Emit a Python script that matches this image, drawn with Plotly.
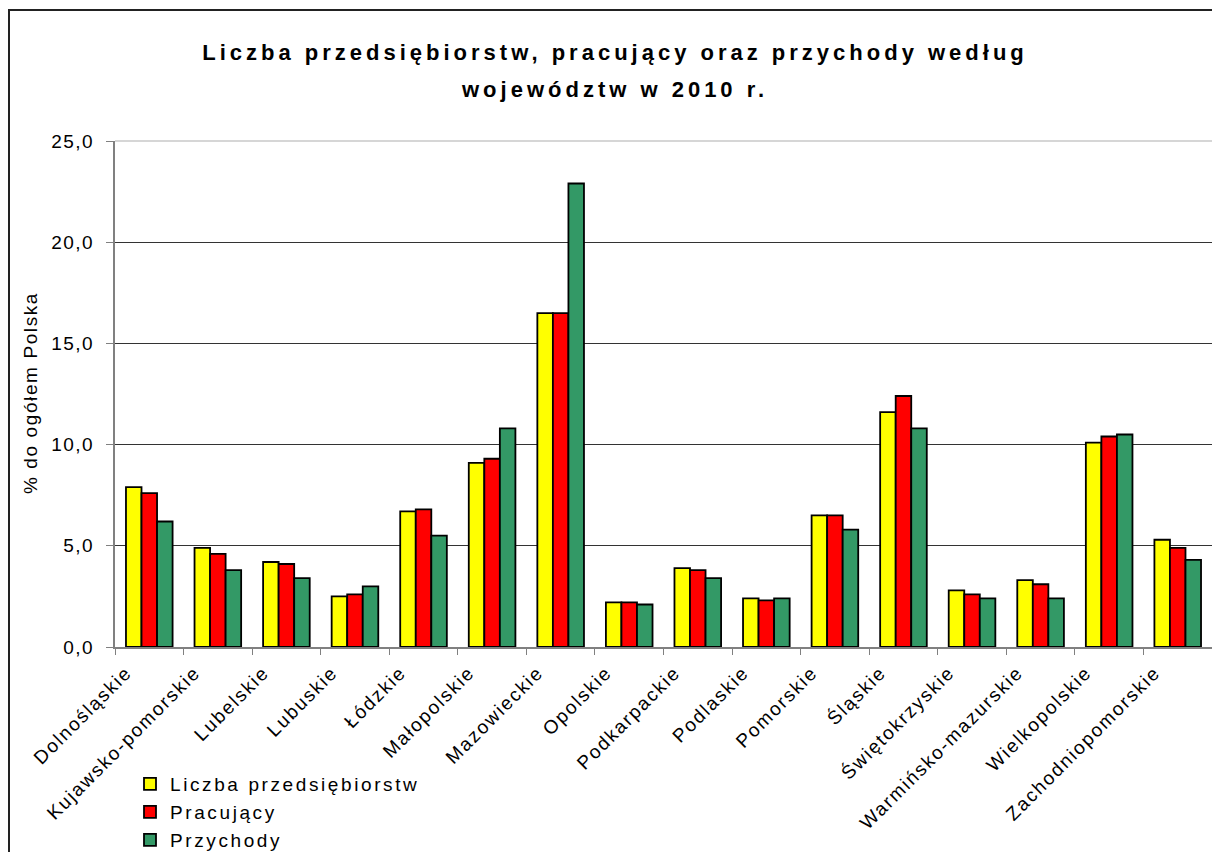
import plotly.graph_objects as go

categories = ["Dolnośląskie", "Kujawsko-pomorskie", "Lubelskie", "Lubuskie", "Łódzkie",
              "Małopolskie", "Mazowieckie", "Opolskie", "Podkarpackie", "Podlaskie",
              "Pomorskie", "Śląskie", "Świętokrzyskie", "Warmińsko-mazurskie",
              "Wielkopolskie", "Zachodniopomorskie"]
liczba = [7.9, 4.9, 4.2, 2.5, 6.7, 9.1, 16.5, 2.2, 3.9, 2.4, 6.5, 11.6, 2.8, 3.3, 10.1, 5.3]
pracujacy = [7.6, 4.6, 4.1, 2.6, 6.8, 9.3, 16.5, 2.2, 3.8, 2.3, 6.5, 12.4, 2.6, 3.1, 10.4, 4.9]
przychody = [6.2, 3.8, 3.4, 3.0, 5.5, 10.8, 22.9, 2.1, 3.4, 2.4, 5.8, 10.8, 2.4, 2.4, 10.5, 4.3]
series_names = ["Liczba przedsiębiorstw", "Pracujący", "Przychody"]
colors = ["#FFFF00", "#FF0000", "#339966"]
y_ticks = [0, 5, 10, 15, 20, 25]
y_tick_labels = ["0,0", "5,0", "10,0", "15,0", "20,0", "25,0"]
title_line1 = "Liczba przedsiębiorstw, pracujący oraz przychody według"
title_line2 = "województw w 2010 r."
y_title = "% do ogółem Polska"

FONT = "Liberation Sans, Arial, sans-serif"

def spaced(t, px):
    return f'<span style="letter-spacing:{px}px">{t}</span>'

# page body has an 8px margin: figure 1204x844 so the page is exactly 1220x860
W, H = 1204, 844
L, T, B = 107, 133, 205
PW, PH = W - L, H - T - B  # plot area size

legend_ids = ["legend", "legend2", "legend3"]
legend_centers = [776, 804, 832]  # figure px

fig = go.Figure()
for name, vals, col, lid in zip(series_names, [liczba, pracujacy, przychody], colors, legend_ids):
    fig.add_trace(go.Bar(
        x=categories, y=vals, name=spaced(name, 2.6), legend=lid,
        marker=dict(color=col, line=dict(color="black", width=1.8)),
    ))

legend_common = dict(xref="container", yref="container", x=122 / W, xanchor="left",
                     yanchor="middle", bgcolor="rgba(0,0,0,0)",
                     font=dict(family=FONT, size=19))

fig.update_layout(
    width=W, height=H,
    margin=dict(l=L, r=0, t=T, b=B, autoexpand=False),
    paper_bgcolor="white", plot_bgcolor="white",
    barmode="group", bargap=0.32, bargroupgap=0,
    font=dict(family=FONT, size=18, color="black"),
    title=dict(
        text=spaced("<b>" + title_line1 + "</b>", 4.0),
        x=607 / W, xanchor="center", xref="container",
        y=1 - 44 / H, yanchor="middle", yref="container",
        font=dict(family=FONT, size=22, color="black"),
    ),
    annotations=[
        dict(
            text=spaced("<b>" + title_line2 + "</b>", 4.0),
            xref="paper", yref="paper", x=(606 - L) / PW, y=(639 - 82) / PH,
            xanchor="center", yanchor="middle", showarrow=False,
            font=dict(family=FONT, size=22, color="black"),
        ),
        dict(
            text=spaced(y_title, 1.6), textangle=-90,
            xref="paper", yref="paper", x=(22 - L) / PW, y=(639 - 385) / PH,
            xanchor="center", yanchor="middle", showarrow=False,
            font=dict(family=FONT, size=19, color="black"),
        ),
    ],
    legend=dict(legend_common, y=1 - legend_centers[0] / H),
    legend2=dict(legend_common, y=1 - legend_centers[1] / H),
    legend3=dict(legend_common, y=1 - legend_centers[2] / H),
    showlegend=True,
)
fig.update_xaxes(
    automargin=False,
    tickangle=-45, ticks="outside", tickson="boundaries", ticklen=6,
    tickcolor="#808080", showline=True, linecolor="#808080", linewidth=2,
    tickmode="array", tickvals=categories, ticktext=[spaced(c, 1.8) for c in categories],
    ticklabelshift=-23, ticklabelstandoff=5,
    tickfont=dict(family=FONT, size=19), showgrid=False,
)
fig.update_yaxes(
    automargin=False,
    range=[0, 25], tickmode="array", tickvals=y_ticks,
    ticktext=[spaced(t, 1.5) for t in y_tick_labels],
    ticks="outside", ticklen=7, tickcolor="#808080", ticklabelstandoff=8,
    showline=True, linecolor="#808080", linewidth=2,
    gridcolor="#333333", gridwidth=1, zeroline=False,
    tickfont=dict(family=FONT, size=19),
)
# light plot-area top border
fig.add_shape(type="line", xref="paper", yref="paper", x0=0, x1=1, y0=1, y1=1,
              line=dict(color="#c8c8c8", width=1.5), layer="above")
# outer chart border
fig.add_shape(type="rect", xref="paper", yref="paper",
              x0=(1 - L) / PW, x1=1.02, y0=-0.45, y1=(639 - 2) / PH,
              line=dict(color="#222222", width=2), fillcolor="rgba(0,0,0,0)", layer="above")

fig.write_html("out.html")
